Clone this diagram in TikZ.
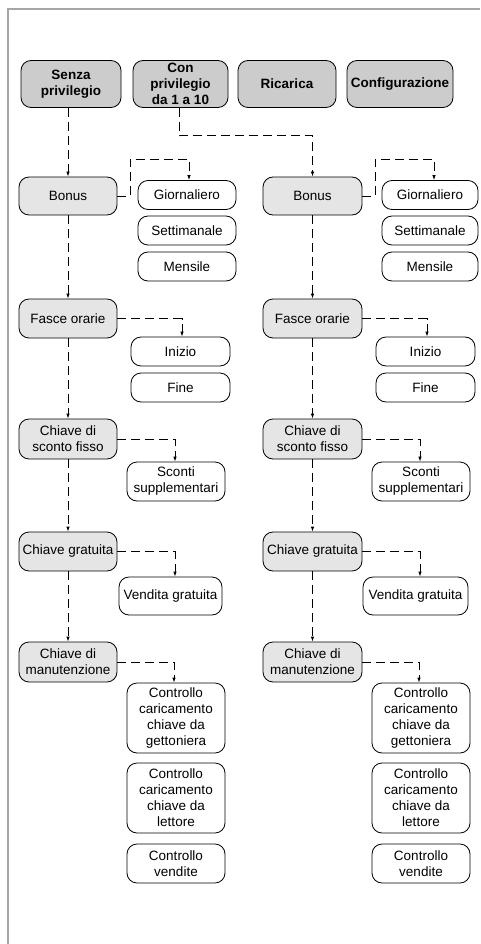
\documentclass[tikz,border=0pt]{standalone}
\usepackage{fontspec}
\setmainfont{Liberation Sans}
\usetikzlibrary{arrows.meta}

\begin{document}
\begin{tikzpicture}[x=1pt, y=-1pt,
  box/.style={draw, line width=0.8pt, fill=white, rounded corners=10pt, inner sep=0pt, align=center,
    minimum width=98pt, minimum height=39pt, font=\fontsize{13.5}{16}\selectfont},
  topbox/.style={box, fill=gray!40, minimum height=47pt, font=\fontsize{13.5}{16}\selectfont\bfseries},
  mainbox/.style={box, fill=gray!20},
  subbox/.style={box, minimum height=29pt},
  link/.style={line width=0.8pt, dash pattern=on 9pt off 5pt, -{Latex[length=5pt,width=3.5pt]}}]
\useasboundingbox (0,0) rectangle (480,944);
\draw[gray!70, line width=1.5pt] (8,944) -- (8,9) -- (480,9);

\node[topbox, minimum width=100pt] (senza) at (71,84) {Senza\\privilegio};
\node[topbox, minimum width=95pt] (con) at (180.5,84) {Con\\privilegio\\da 1 a 10};
\node[topbox, minimum width=98pt] (ricarica) at (287,84) {Ricarica};
\node[topbox, minimum width=106pt] (config) at (400,84) {Configurazione};

\node[mainbox, minimum height=38pt] (bonusL) at (68,196) {Bonus};
\node[subbox] (giornL) at (187,195) {Giornaliero};
\node[subbox] (settL) at (187,230.5) {Settimanale};
\node[subbox] (mensL) at (187,266.5) {Mensile};
\node[mainbox] (fasceL) at (68,318.5) {Fasce orarie};
\node[subbox, minimum width=99pt] (inizioL) at (180.5,351.5) {Inizio};
\node[subbox, minimum width=99pt] (fineL) at (180.5,387.5) {Fine};
\node[mainbox, minimum height=40pt] (scontoL) at (68,439) {Chiave di\\sconto fisso};
\node[box] (scontiL) at (176,481.5) {Sconti\\supplementari};
\node[mainbox] (gratL) at (68,551.5) {Chiave gratuita};
\node[box, minimum width=103pt, minimum height=38pt] (vendL) at (170.5,596) {Vendita gratuita};
\node[mainbox, minimum height=40pt] (manutL) at (68,662) {Chiave di\\manutenzione};
\node[box, minimum height=70pt] (getL) at (176,718) {Controllo\\caricamento\\chiave da\\gettoniera};
\node[box, minimum height=70pt] (lettL) at (176,798) {Controllo\\caricamento\\chiave da\\lettore};
\node[box] (vendiL) at (176,863.5) {Controllo\\vendite};

\node[mainbox, minimum height=38pt, minimum width=99pt] (bonusR) at (312.5,196) {Bonus};
\node[subbox, minimum width=96pt] (giornR) at (430,195) {Giornaliero};
\node[subbox, minimum width=96pt] (settR) at (430,230.5) {Settimanale};
\node[subbox, minimum width=96pt] (mensR) at (430,266.5) {Mensile};
\node[mainbox, minimum width=99pt] (fasceR) at (312.5,318.5) {Fasce orarie};
\node[subbox, minimum width=99pt] (inizioR) at (425.5,351.5) {Inizio};
\node[subbox, minimum width=99pt] (fineR) at (425.5,387.5) {Fine};
\node[mainbox, minimum height=40pt, minimum width=99pt] (scontoR) at (312.5,439) {Chiave di\\sconto fisso};
\node[box] (scontiR) at (421,481.5) {Sconti\\supplementari};
\node[mainbox, minimum width=99pt] (gratR) at (312.5,551.5) {Chiave gratuita};
\node[box, minimum width=105pt, minimum height=38pt] (vendR) at (415.5,596) {Vendita gratuita};
\node[mainbox, minimum height=40pt, minimum width=99pt] (manutR) at (312.5,662) {Chiave di\\manutenzione};
\node[box, minimum height=70pt] (getR) at (421,718) {Controllo\\caricamento\\chiave da\\gettoniera};
\node[box, minimum height=70pt] (lettR) at (421,798) {Controllo\\caricamento\\chiave da\\lettore};
\node[box] (vendiR) at (421,863.5) {Controllo\\vendite};

\draw[link] (bonusL.north |- senza.south) -- (bonusL.north);
\draw[link] ([xshift=-1.5pt]con.south) -- ++(0,28) -| (bonusR.north);

\draw[link] (bonusL.east) -- ++(13,0) -- ++(0,-37) -| ([xshift=2pt]giornL.north);
\draw[link] (bonusL.south) -- (fasceL.north);
\draw[link] (fasceL.east) -| ([xshift=1.5pt]inizioL.north);
\draw[link] (fasceL.south) -- (scontoL.north);
\draw[link] (scontoL.east) -| ([xshift=-1pt]scontiL.north);
\draw[link] (scontoL.south) -- (gratL.north);
\draw[link] (gratL.east) -| ([xshift=4.5pt]vendL.north);
\draw[link] (gratL.south) -- (manutL.north);
\draw[link] (manutL.east) -| ([xshift=-2pt]getL.north);

\draw[link] (bonusR.east) -- ++(13,0) -- ++(0,-37) -| ([xshift=4pt]giornR.north);
\draw[link] (bonusR.south) -- (fasceR.north);
\draw[link] (fasceR.east) -| ([xshift=1.5pt]inizioR.north);
\draw[link] (fasceR.south) -- (scontoR.north);
\draw[link] (scontoR.east) -| ([xshift=-1pt]scontiR.north);
\draw[link] (scontoR.south) -- (gratR.north);
\draw[link] (gratR.east) -| ([xshift=4.5pt]vendR.north);
\draw[link] (gratR.south) -- (manutR.north);
\draw[link] (manutR.east) -| ([xshift=-2pt]getR.north);
\end{tikzpicture}
\end{document}
